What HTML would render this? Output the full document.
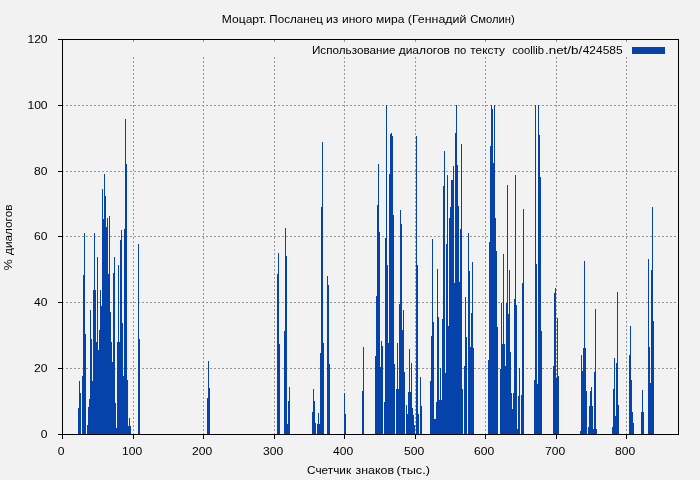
<!DOCTYPE html>
<html><head><meta charset="utf-8"><title>Моцарт. Посланец из иного мира</title>
<style>html,body{margin:0;padding:0;background:#f2f2f2;overflow:hidden}svg{display:block}text{-webkit-font-smoothing:antialiased}text{fill:#000}</style></head>
<body><svg width="700" height="480" viewBox="0 0 700 480" shape-rendering="crispEdges"><rect x="0" y="0" width="700" height="480" fill="#f2f2f2"/><path d="M66 105h2v1h-2zM70 105h2v1h-2zM74 105h2v1h-2zM78 105h2v1h-2zM82 105h2v1h-2zM86 105h2v1h-2zM90 105h2v1h-2zM94 105h2v1h-2zM98 105h2v1h-2zM102 105h2v1h-2zM106 105h2v1h-2zM110 105h2v1h-2zM114 105h2v1h-2zM118 105h2v1h-2zM122 105h2v1h-2zM126 105h2v1h-2zM130 105h2v1h-2zM134 105h2v1h-2zM138 105h2v1h-2zM142 105h2v1h-2zM146 105h2v1h-2zM150 105h2v1h-2zM154 105h2v1h-2zM158 105h2v1h-2zM162 105h2v1h-2zM166 105h2v1h-2zM170 105h2v1h-2zM174 105h2v1h-2zM178 105h2v1h-2zM182 105h2v1h-2zM186 105h2v1h-2zM190 105h2v1h-2zM194 105h2v1h-2zM198 105h2v1h-2zM202 105h2v1h-2zM206 105h2v1h-2zM210 105h2v1h-2zM214 105h2v1h-2zM218 105h2v1h-2zM222 105h2v1h-2zM226 105h2v1h-2zM230 105h2v1h-2zM234 105h2v1h-2zM238 105h2v1h-2zM242 105h2v1h-2zM246 105h2v1h-2zM250 105h2v1h-2zM254 105h2v1h-2zM258 105h2v1h-2zM262 105h2v1h-2zM266 105h2v1h-2zM270 105h2v1h-2zM274 105h2v1h-2zM278 105h2v1h-2zM282 105h2v1h-2zM286 105h2v1h-2zM290 105h2v1h-2zM294 105h2v1h-2zM298 105h2v1h-2zM302 105h2v1h-2zM306 105h2v1h-2zM310 105h2v1h-2zM314 105h2v1h-2zM318 105h2v1h-2zM322 105h2v1h-2zM326 105h2v1h-2zM330 105h2v1h-2zM334 105h2v1h-2zM338 105h2v1h-2zM342 105h2v1h-2zM346 105h2v1h-2zM350 105h2v1h-2zM354 105h2v1h-2zM358 105h2v1h-2zM362 105h2v1h-2zM366 105h2v1h-2zM370 105h2v1h-2zM374 105h2v1h-2zM378 105h2v1h-2zM382 105h2v1h-2zM386 105h2v1h-2zM390 105h2v1h-2zM394 105h2v1h-2zM398 105h2v1h-2zM402 105h2v1h-2zM406 105h2v1h-2zM410 105h2v1h-2zM414 105h2v1h-2zM418 105h2v1h-2zM422 105h2v1h-2zM426 105h2v1h-2zM430 105h2v1h-2zM434 105h2v1h-2zM438 105h2v1h-2zM442 105h2v1h-2zM446 105h2v1h-2zM450 105h2v1h-2zM454 105h2v1h-2zM458 105h2v1h-2zM462 105h2v1h-2zM466 105h2v1h-2zM470 105h2v1h-2zM474 105h2v1h-2zM478 105h2v1h-2zM482 105h2v1h-2zM486 105h2v1h-2zM490 105h2v1h-2zM494 105h2v1h-2zM498 105h2v1h-2zM502 105h2v1h-2zM506 105h2v1h-2zM510 105h2v1h-2zM514 105h2v1h-2zM518 105h2v1h-2zM522 105h2v1h-2zM526 105h2v1h-2zM530 105h2v1h-2zM534 105h2v1h-2zM538 105h2v1h-2zM542 105h2v1h-2zM546 105h2v1h-2zM550 105h2v1h-2zM554 105h2v1h-2zM558 105h2v1h-2zM562 105h2v1h-2zM566 105h2v1h-2zM570 105h2v1h-2zM574 105h2v1h-2zM578 105h2v1h-2zM582 105h2v1h-2zM586 105h2v1h-2zM590 105h2v1h-2zM594 105h2v1h-2zM598 105h2v1h-2zM602 105h2v1h-2zM606 105h2v1h-2zM610 105h2v1h-2zM614 105h2v1h-2zM618 105h2v1h-2zM622 105h2v1h-2zM626 105h2v1h-2zM630 105h2v1h-2zM634 105h2v1h-2zM638 105h2v1h-2zM642 105h2v1h-2zM646 105h2v1h-2zM650 105h2v1h-2zM654 105h2v1h-2zM658 105h2v1h-2zM662 105h2v1h-2zM666 105h2v1h-2zM670 105h2v1h-2zM674 105h2v1h-2zM66 171h2v1h-2zM70 171h2v1h-2zM74 171h2v1h-2zM78 171h2v1h-2zM82 171h2v1h-2zM86 171h2v1h-2zM90 171h2v1h-2zM94 171h2v1h-2zM98 171h2v1h-2zM102 171h2v1h-2zM106 171h2v1h-2zM110 171h2v1h-2zM114 171h2v1h-2zM118 171h2v1h-2zM122 171h2v1h-2zM126 171h2v1h-2zM130 171h2v1h-2zM134 171h2v1h-2zM138 171h2v1h-2zM142 171h2v1h-2zM146 171h2v1h-2zM150 171h2v1h-2zM154 171h2v1h-2zM158 171h2v1h-2zM162 171h2v1h-2zM166 171h2v1h-2zM170 171h2v1h-2zM174 171h2v1h-2zM178 171h2v1h-2zM182 171h2v1h-2zM186 171h2v1h-2zM190 171h2v1h-2zM194 171h2v1h-2zM198 171h2v1h-2zM202 171h2v1h-2zM206 171h2v1h-2zM210 171h2v1h-2zM214 171h2v1h-2zM218 171h2v1h-2zM222 171h2v1h-2zM226 171h2v1h-2zM230 171h2v1h-2zM234 171h2v1h-2zM238 171h2v1h-2zM242 171h2v1h-2zM246 171h2v1h-2zM250 171h2v1h-2zM254 171h2v1h-2zM258 171h2v1h-2zM262 171h2v1h-2zM266 171h2v1h-2zM270 171h2v1h-2zM274 171h2v1h-2zM278 171h2v1h-2zM282 171h2v1h-2zM286 171h2v1h-2zM290 171h2v1h-2zM294 171h2v1h-2zM298 171h2v1h-2zM302 171h2v1h-2zM306 171h2v1h-2zM310 171h2v1h-2zM314 171h2v1h-2zM318 171h2v1h-2zM322 171h2v1h-2zM326 171h2v1h-2zM330 171h2v1h-2zM334 171h2v1h-2zM338 171h2v1h-2zM342 171h2v1h-2zM346 171h2v1h-2zM350 171h2v1h-2zM354 171h2v1h-2zM358 171h2v1h-2zM362 171h2v1h-2zM366 171h2v1h-2zM370 171h2v1h-2zM374 171h2v1h-2zM378 171h2v1h-2zM382 171h2v1h-2zM386 171h2v1h-2zM390 171h2v1h-2zM394 171h2v1h-2zM398 171h2v1h-2zM402 171h2v1h-2zM406 171h2v1h-2zM410 171h2v1h-2zM414 171h2v1h-2zM418 171h2v1h-2zM422 171h2v1h-2zM426 171h2v1h-2zM430 171h2v1h-2zM434 171h2v1h-2zM438 171h2v1h-2zM442 171h2v1h-2zM446 171h2v1h-2zM450 171h2v1h-2zM454 171h2v1h-2zM458 171h2v1h-2zM462 171h2v1h-2zM466 171h2v1h-2zM470 171h2v1h-2zM474 171h2v1h-2zM478 171h2v1h-2zM482 171h2v1h-2zM486 171h2v1h-2zM490 171h2v1h-2zM494 171h2v1h-2zM498 171h2v1h-2zM502 171h2v1h-2zM506 171h2v1h-2zM510 171h2v1h-2zM514 171h2v1h-2zM518 171h2v1h-2zM522 171h2v1h-2zM526 171h2v1h-2zM530 171h2v1h-2zM534 171h2v1h-2zM538 171h2v1h-2zM542 171h2v1h-2zM546 171h2v1h-2zM550 171h2v1h-2zM554 171h2v1h-2zM558 171h2v1h-2zM562 171h2v1h-2zM566 171h2v1h-2zM570 171h2v1h-2zM574 171h2v1h-2zM578 171h2v1h-2zM582 171h2v1h-2zM586 171h2v1h-2zM590 171h2v1h-2zM594 171h2v1h-2zM598 171h2v1h-2zM602 171h2v1h-2zM606 171h2v1h-2zM610 171h2v1h-2zM614 171h2v1h-2zM618 171h2v1h-2zM622 171h2v1h-2zM626 171h2v1h-2zM630 171h2v1h-2zM634 171h2v1h-2zM638 171h2v1h-2zM642 171h2v1h-2zM646 171h2v1h-2zM650 171h2v1h-2zM654 171h2v1h-2zM658 171h2v1h-2zM662 171h2v1h-2zM666 171h2v1h-2zM670 171h2v1h-2zM674 171h2v1h-2zM66 236h2v1h-2zM70 236h2v1h-2zM74 236h2v1h-2zM78 236h2v1h-2zM82 236h2v1h-2zM86 236h2v1h-2zM90 236h2v1h-2zM94 236h2v1h-2zM98 236h2v1h-2zM102 236h2v1h-2zM106 236h2v1h-2zM110 236h2v1h-2zM114 236h2v1h-2zM118 236h2v1h-2zM122 236h2v1h-2zM126 236h2v1h-2zM130 236h2v1h-2zM134 236h2v1h-2zM138 236h2v1h-2zM142 236h2v1h-2zM146 236h2v1h-2zM150 236h2v1h-2zM154 236h2v1h-2zM158 236h2v1h-2zM162 236h2v1h-2zM166 236h2v1h-2zM170 236h2v1h-2zM174 236h2v1h-2zM178 236h2v1h-2zM182 236h2v1h-2zM186 236h2v1h-2zM190 236h2v1h-2zM194 236h2v1h-2zM198 236h2v1h-2zM202 236h2v1h-2zM206 236h2v1h-2zM210 236h2v1h-2zM214 236h2v1h-2zM218 236h2v1h-2zM222 236h2v1h-2zM226 236h2v1h-2zM230 236h2v1h-2zM234 236h2v1h-2zM238 236h2v1h-2zM242 236h2v1h-2zM246 236h2v1h-2zM250 236h2v1h-2zM254 236h2v1h-2zM258 236h2v1h-2zM262 236h2v1h-2zM266 236h2v1h-2zM270 236h2v1h-2zM274 236h2v1h-2zM278 236h2v1h-2zM282 236h2v1h-2zM286 236h2v1h-2zM290 236h2v1h-2zM294 236h2v1h-2zM298 236h2v1h-2zM302 236h2v1h-2zM306 236h2v1h-2zM310 236h2v1h-2zM314 236h2v1h-2zM318 236h2v1h-2zM322 236h2v1h-2zM326 236h2v1h-2zM330 236h2v1h-2zM334 236h2v1h-2zM338 236h2v1h-2zM342 236h2v1h-2zM346 236h2v1h-2zM350 236h2v1h-2zM354 236h2v1h-2zM358 236h2v1h-2zM362 236h2v1h-2zM366 236h2v1h-2zM370 236h2v1h-2zM374 236h2v1h-2zM378 236h2v1h-2zM382 236h2v1h-2zM386 236h2v1h-2zM390 236h2v1h-2zM394 236h2v1h-2zM398 236h2v1h-2zM402 236h2v1h-2zM406 236h2v1h-2zM410 236h2v1h-2zM414 236h2v1h-2zM418 236h2v1h-2zM422 236h2v1h-2zM426 236h2v1h-2zM430 236h2v1h-2zM434 236h2v1h-2zM438 236h2v1h-2zM442 236h2v1h-2zM446 236h2v1h-2zM450 236h2v1h-2zM454 236h2v1h-2zM458 236h2v1h-2zM462 236h2v1h-2zM466 236h2v1h-2zM470 236h2v1h-2zM474 236h2v1h-2zM478 236h2v1h-2zM482 236h2v1h-2zM486 236h2v1h-2zM490 236h2v1h-2zM494 236h2v1h-2zM498 236h2v1h-2zM502 236h2v1h-2zM506 236h2v1h-2zM510 236h2v1h-2zM514 236h2v1h-2zM518 236h2v1h-2zM522 236h2v1h-2zM526 236h2v1h-2zM530 236h2v1h-2zM534 236h2v1h-2zM538 236h2v1h-2zM542 236h2v1h-2zM546 236h2v1h-2zM550 236h2v1h-2zM554 236h2v1h-2zM558 236h2v1h-2zM562 236h2v1h-2zM566 236h2v1h-2zM570 236h2v1h-2zM574 236h2v1h-2zM578 236h2v1h-2zM582 236h2v1h-2zM586 236h2v1h-2zM590 236h2v1h-2zM594 236h2v1h-2zM598 236h2v1h-2zM602 236h2v1h-2zM606 236h2v1h-2zM610 236h2v1h-2zM614 236h2v1h-2zM618 236h2v1h-2zM622 236h2v1h-2zM626 236h2v1h-2zM630 236h2v1h-2zM634 236h2v1h-2zM638 236h2v1h-2zM642 236h2v1h-2zM646 236h2v1h-2zM650 236h2v1h-2zM654 236h2v1h-2zM658 236h2v1h-2zM662 236h2v1h-2zM666 236h2v1h-2zM670 236h2v1h-2zM674 236h2v1h-2zM66 302h2v1h-2zM70 302h2v1h-2zM74 302h2v1h-2zM78 302h2v1h-2zM82 302h2v1h-2zM86 302h2v1h-2zM90 302h2v1h-2zM94 302h2v1h-2zM98 302h2v1h-2zM102 302h2v1h-2zM106 302h2v1h-2zM110 302h2v1h-2zM114 302h2v1h-2zM118 302h2v1h-2zM122 302h2v1h-2zM126 302h2v1h-2zM130 302h2v1h-2zM134 302h2v1h-2zM138 302h2v1h-2zM142 302h2v1h-2zM146 302h2v1h-2zM150 302h2v1h-2zM154 302h2v1h-2zM158 302h2v1h-2zM162 302h2v1h-2zM166 302h2v1h-2zM170 302h2v1h-2zM174 302h2v1h-2zM178 302h2v1h-2zM182 302h2v1h-2zM186 302h2v1h-2zM190 302h2v1h-2zM194 302h2v1h-2zM198 302h2v1h-2zM202 302h2v1h-2zM206 302h2v1h-2zM210 302h2v1h-2zM214 302h2v1h-2zM218 302h2v1h-2zM222 302h2v1h-2zM226 302h2v1h-2zM230 302h2v1h-2zM234 302h2v1h-2zM238 302h2v1h-2zM242 302h2v1h-2zM246 302h2v1h-2zM250 302h2v1h-2zM254 302h2v1h-2zM258 302h2v1h-2zM262 302h2v1h-2zM266 302h2v1h-2zM270 302h2v1h-2zM274 302h2v1h-2zM278 302h2v1h-2zM282 302h2v1h-2zM286 302h2v1h-2zM290 302h2v1h-2zM294 302h2v1h-2zM298 302h2v1h-2zM302 302h2v1h-2zM306 302h2v1h-2zM310 302h2v1h-2zM314 302h2v1h-2zM318 302h2v1h-2zM322 302h2v1h-2zM326 302h2v1h-2zM330 302h2v1h-2zM334 302h2v1h-2zM338 302h2v1h-2zM342 302h2v1h-2zM346 302h2v1h-2zM350 302h2v1h-2zM354 302h2v1h-2zM358 302h2v1h-2zM362 302h2v1h-2zM366 302h2v1h-2zM370 302h2v1h-2zM374 302h2v1h-2zM378 302h2v1h-2zM382 302h2v1h-2zM386 302h2v1h-2zM390 302h2v1h-2zM394 302h2v1h-2zM398 302h2v1h-2zM402 302h2v1h-2zM406 302h2v1h-2zM410 302h2v1h-2zM414 302h2v1h-2zM418 302h2v1h-2zM422 302h2v1h-2zM426 302h2v1h-2zM430 302h2v1h-2zM434 302h2v1h-2zM438 302h2v1h-2zM442 302h2v1h-2zM446 302h2v1h-2zM450 302h2v1h-2zM454 302h2v1h-2zM458 302h2v1h-2zM462 302h2v1h-2zM466 302h2v1h-2zM470 302h2v1h-2zM474 302h2v1h-2zM478 302h2v1h-2zM482 302h2v1h-2zM486 302h2v1h-2zM490 302h2v1h-2zM494 302h2v1h-2zM498 302h2v1h-2zM502 302h2v1h-2zM506 302h2v1h-2zM510 302h2v1h-2zM514 302h2v1h-2zM518 302h2v1h-2zM522 302h2v1h-2zM526 302h2v1h-2zM530 302h2v1h-2zM534 302h2v1h-2zM538 302h2v1h-2zM542 302h2v1h-2zM546 302h2v1h-2zM550 302h2v1h-2zM554 302h2v1h-2zM558 302h2v1h-2zM562 302h2v1h-2zM566 302h2v1h-2zM570 302h2v1h-2zM574 302h2v1h-2zM578 302h2v1h-2zM582 302h2v1h-2zM586 302h2v1h-2zM590 302h2v1h-2zM594 302h2v1h-2zM598 302h2v1h-2zM602 302h2v1h-2zM606 302h2v1h-2zM610 302h2v1h-2zM614 302h2v1h-2zM618 302h2v1h-2zM622 302h2v1h-2zM626 302h2v1h-2zM630 302h2v1h-2zM634 302h2v1h-2zM638 302h2v1h-2zM642 302h2v1h-2zM646 302h2v1h-2zM650 302h2v1h-2zM654 302h2v1h-2zM658 302h2v1h-2zM662 302h2v1h-2zM666 302h2v1h-2zM670 302h2v1h-2zM674 302h2v1h-2zM66 368h2v1h-2zM70 368h2v1h-2zM74 368h2v1h-2zM78 368h2v1h-2zM82 368h2v1h-2zM86 368h2v1h-2zM90 368h2v1h-2zM94 368h2v1h-2zM98 368h2v1h-2zM102 368h2v1h-2zM106 368h2v1h-2zM110 368h2v1h-2zM114 368h2v1h-2zM118 368h2v1h-2zM122 368h2v1h-2zM126 368h2v1h-2zM130 368h2v1h-2zM134 368h2v1h-2zM138 368h2v1h-2zM142 368h2v1h-2zM146 368h2v1h-2zM150 368h2v1h-2zM154 368h2v1h-2zM158 368h2v1h-2zM162 368h2v1h-2zM166 368h2v1h-2zM170 368h2v1h-2zM174 368h2v1h-2zM178 368h2v1h-2zM182 368h2v1h-2zM186 368h2v1h-2zM190 368h2v1h-2zM194 368h2v1h-2zM198 368h2v1h-2zM202 368h2v1h-2zM206 368h2v1h-2zM210 368h2v1h-2zM214 368h2v1h-2zM218 368h2v1h-2zM222 368h2v1h-2zM226 368h2v1h-2zM230 368h2v1h-2zM234 368h2v1h-2zM238 368h2v1h-2zM242 368h2v1h-2zM246 368h2v1h-2zM250 368h2v1h-2zM254 368h2v1h-2zM258 368h2v1h-2zM262 368h2v1h-2zM266 368h2v1h-2zM270 368h2v1h-2zM274 368h2v1h-2zM278 368h2v1h-2zM282 368h2v1h-2zM286 368h2v1h-2zM290 368h2v1h-2zM294 368h2v1h-2zM298 368h2v1h-2zM302 368h2v1h-2zM306 368h2v1h-2zM310 368h2v1h-2zM314 368h2v1h-2zM318 368h2v1h-2zM322 368h2v1h-2zM326 368h2v1h-2zM330 368h2v1h-2zM334 368h2v1h-2zM338 368h2v1h-2zM342 368h2v1h-2zM346 368h2v1h-2zM350 368h2v1h-2zM354 368h2v1h-2zM358 368h2v1h-2zM362 368h2v1h-2zM366 368h2v1h-2zM370 368h2v1h-2zM374 368h2v1h-2zM378 368h2v1h-2zM382 368h2v1h-2zM386 368h2v1h-2zM390 368h2v1h-2zM394 368h2v1h-2zM398 368h2v1h-2zM402 368h2v1h-2zM406 368h2v1h-2zM410 368h2v1h-2zM414 368h2v1h-2zM418 368h2v1h-2zM422 368h2v1h-2zM426 368h2v1h-2zM430 368h2v1h-2zM434 368h2v1h-2zM438 368h2v1h-2zM442 368h2v1h-2zM446 368h2v1h-2zM450 368h2v1h-2zM454 368h2v1h-2zM458 368h2v1h-2zM462 368h2v1h-2zM466 368h2v1h-2zM470 368h2v1h-2zM474 368h2v1h-2zM478 368h2v1h-2zM482 368h2v1h-2zM486 368h2v1h-2zM490 368h2v1h-2zM494 368h2v1h-2zM498 368h2v1h-2zM502 368h2v1h-2zM506 368h2v1h-2zM510 368h2v1h-2zM514 368h2v1h-2zM518 368h2v1h-2zM522 368h2v1h-2zM526 368h2v1h-2zM530 368h2v1h-2zM534 368h2v1h-2zM538 368h2v1h-2zM542 368h2v1h-2zM546 368h2v1h-2zM550 368h2v1h-2zM554 368h2v1h-2zM558 368h2v1h-2zM562 368h2v1h-2zM566 368h2v1h-2zM570 368h2v1h-2zM574 368h2v1h-2zM578 368h2v1h-2zM582 368h2v1h-2zM586 368h2v1h-2zM590 368h2v1h-2zM594 368h2v1h-2zM598 368h2v1h-2zM602 368h2v1h-2zM606 368h2v1h-2zM610 368h2v1h-2zM614 368h2v1h-2zM618 368h2v1h-2zM622 368h2v1h-2zM626 368h2v1h-2zM630 368h2v1h-2zM634 368h2v1h-2zM638 368h2v1h-2zM642 368h2v1h-2zM646 368h2v1h-2zM650 368h2v1h-2zM654 368h2v1h-2zM658 368h2v1h-2zM662 368h2v1h-2zM666 368h2v1h-2zM670 368h2v1h-2zM674 368h2v1h-2zM133 57h1v2h-1zM133 61h1v2h-1zM133 65h1v2h-1zM133 69h1v2h-1zM133 73h1v2h-1zM133 77h1v2h-1zM133 81h1v2h-1zM133 85h1v2h-1zM133 89h1v2h-1zM133 93h1v2h-1zM133 97h1v2h-1zM133 101h1v2h-1zM133 105h1v2h-1zM133 109h1v2h-1zM133 113h1v2h-1zM133 117h1v2h-1zM133 121h1v2h-1zM133 125h1v2h-1zM133 129h1v2h-1zM133 133h1v2h-1zM133 137h1v2h-1zM133 141h1v2h-1zM133 145h1v2h-1zM133 149h1v2h-1zM133 153h1v2h-1zM133 157h1v2h-1zM133 161h1v2h-1zM133 165h1v2h-1zM133 169h1v2h-1zM133 173h1v2h-1zM133 177h1v2h-1zM133 181h1v2h-1zM133 185h1v2h-1zM133 189h1v2h-1zM133 193h1v2h-1zM133 197h1v2h-1zM133 201h1v2h-1zM133 205h1v2h-1zM133 209h1v2h-1zM133 213h1v2h-1zM133 217h1v2h-1zM133 221h1v2h-1zM133 225h1v2h-1zM133 229h1v2h-1zM133 233h1v2h-1zM133 237h1v2h-1zM133 241h1v2h-1zM133 245h1v2h-1zM133 249h1v2h-1zM133 253h1v2h-1zM133 257h1v2h-1zM133 261h1v2h-1zM133 265h1v2h-1zM133 269h1v2h-1zM133 273h1v2h-1zM133 277h1v2h-1zM133 281h1v2h-1zM133 285h1v2h-1zM133 289h1v2h-1zM133 293h1v2h-1zM133 297h1v2h-1zM133 301h1v2h-1zM133 305h1v2h-1zM133 309h1v2h-1zM133 313h1v2h-1zM133 317h1v2h-1zM133 321h1v2h-1zM133 325h1v2h-1zM133 329h1v2h-1zM133 333h1v2h-1zM133 337h1v2h-1zM133 341h1v2h-1zM133 345h1v2h-1zM133 349h1v2h-1zM133 353h1v2h-1zM133 357h1v2h-1zM133 361h1v2h-1zM133 365h1v2h-1zM133 369h1v2h-1zM133 373h1v2h-1zM133 377h1v2h-1zM133 381h1v2h-1zM133 385h1v2h-1zM133 389h1v2h-1zM133 393h1v2h-1zM133 397h1v2h-1zM133 401h1v2h-1zM133 405h1v2h-1zM133 409h1v2h-1zM133 413h1v2h-1zM133 417h1v2h-1zM133 421h1v2h-1zM133 425h1v2h-1zM133 429h1v2h-1zM133 433h1v2h-1zM133 40h1v2h-1zM203 57h1v2h-1zM203 61h1v2h-1zM203 65h1v2h-1zM203 69h1v2h-1zM203 73h1v2h-1zM203 77h1v2h-1zM203 81h1v2h-1zM203 85h1v2h-1zM203 89h1v2h-1zM203 93h1v2h-1zM203 97h1v2h-1zM203 101h1v2h-1zM203 105h1v2h-1zM203 109h1v2h-1zM203 113h1v2h-1zM203 117h1v2h-1zM203 121h1v2h-1zM203 125h1v2h-1zM203 129h1v2h-1zM203 133h1v2h-1zM203 137h1v2h-1zM203 141h1v2h-1zM203 145h1v2h-1zM203 149h1v2h-1zM203 153h1v2h-1zM203 157h1v2h-1zM203 161h1v2h-1zM203 165h1v2h-1zM203 169h1v2h-1zM203 173h1v2h-1zM203 177h1v2h-1zM203 181h1v2h-1zM203 185h1v2h-1zM203 189h1v2h-1zM203 193h1v2h-1zM203 197h1v2h-1zM203 201h1v2h-1zM203 205h1v2h-1zM203 209h1v2h-1zM203 213h1v2h-1zM203 217h1v2h-1zM203 221h1v2h-1zM203 225h1v2h-1zM203 229h1v2h-1zM203 233h1v2h-1zM203 237h1v2h-1zM203 241h1v2h-1zM203 245h1v2h-1zM203 249h1v2h-1zM203 253h1v2h-1zM203 257h1v2h-1zM203 261h1v2h-1zM203 265h1v2h-1zM203 269h1v2h-1zM203 273h1v2h-1zM203 277h1v2h-1zM203 281h1v2h-1zM203 285h1v2h-1zM203 289h1v2h-1zM203 293h1v2h-1zM203 297h1v2h-1zM203 301h1v2h-1zM203 305h1v2h-1zM203 309h1v2h-1zM203 313h1v2h-1zM203 317h1v2h-1zM203 321h1v2h-1zM203 325h1v2h-1zM203 329h1v2h-1zM203 333h1v2h-1zM203 337h1v2h-1zM203 341h1v2h-1zM203 345h1v2h-1zM203 349h1v2h-1zM203 353h1v2h-1zM203 357h1v2h-1zM203 361h1v2h-1zM203 365h1v2h-1zM203 369h1v2h-1zM203 373h1v2h-1zM203 377h1v2h-1zM203 381h1v2h-1zM203 385h1v2h-1zM203 389h1v2h-1zM203 393h1v2h-1zM203 397h1v2h-1zM203 401h1v2h-1zM203 405h1v2h-1zM203 409h1v2h-1zM203 413h1v2h-1zM203 417h1v2h-1zM203 421h1v2h-1zM203 425h1v2h-1zM203 429h1v2h-1zM203 433h1v2h-1zM203 40h1v2h-1zM274 57h1v2h-1zM274 61h1v2h-1zM274 65h1v2h-1zM274 69h1v2h-1zM274 73h1v2h-1zM274 77h1v2h-1zM274 81h1v2h-1zM274 85h1v2h-1zM274 89h1v2h-1zM274 93h1v2h-1zM274 97h1v2h-1zM274 101h1v2h-1zM274 105h1v2h-1zM274 109h1v2h-1zM274 113h1v2h-1zM274 117h1v2h-1zM274 121h1v2h-1zM274 125h1v2h-1zM274 129h1v2h-1zM274 133h1v2h-1zM274 137h1v2h-1zM274 141h1v2h-1zM274 145h1v2h-1zM274 149h1v2h-1zM274 153h1v2h-1zM274 157h1v2h-1zM274 161h1v2h-1zM274 165h1v2h-1zM274 169h1v2h-1zM274 173h1v2h-1zM274 177h1v2h-1zM274 181h1v2h-1zM274 185h1v2h-1zM274 189h1v2h-1zM274 193h1v2h-1zM274 197h1v2h-1zM274 201h1v2h-1zM274 205h1v2h-1zM274 209h1v2h-1zM274 213h1v2h-1zM274 217h1v2h-1zM274 221h1v2h-1zM274 225h1v2h-1zM274 229h1v2h-1zM274 233h1v2h-1zM274 237h1v2h-1zM274 241h1v2h-1zM274 245h1v2h-1zM274 249h1v2h-1zM274 253h1v2h-1zM274 257h1v2h-1zM274 261h1v2h-1zM274 265h1v2h-1zM274 269h1v2h-1zM274 273h1v2h-1zM274 277h1v2h-1zM274 281h1v2h-1zM274 285h1v2h-1zM274 289h1v2h-1zM274 293h1v2h-1zM274 297h1v2h-1zM274 301h1v2h-1zM274 305h1v2h-1zM274 309h1v2h-1zM274 313h1v2h-1zM274 317h1v2h-1zM274 321h1v2h-1zM274 325h1v2h-1zM274 329h1v2h-1zM274 333h1v2h-1zM274 337h1v2h-1zM274 341h1v2h-1zM274 345h1v2h-1zM274 349h1v2h-1zM274 353h1v2h-1zM274 357h1v2h-1zM274 361h1v2h-1zM274 365h1v2h-1zM274 369h1v2h-1zM274 373h1v2h-1zM274 377h1v2h-1zM274 381h1v2h-1zM274 385h1v2h-1zM274 389h1v2h-1zM274 393h1v2h-1zM274 397h1v2h-1zM274 401h1v2h-1zM274 405h1v2h-1zM274 409h1v2h-1zM274 413h1v2h-1zM274 417h1v2h-1zM274 421h1v2h-1zM274 425h1v2h-1zM274 429h1v2h-1zM274 433h1v2h-1zM274 40h1v2h-1zM344 57h1v2h-1zM344 61h1v2h-1zM344 65h1v2h-1zM344 69h1v2h-1zM344 73h1v2h-1zM344 77h1v2h-1zM344 81h1v2h-1zM344 85h1v2h-1zM344 89h1v2h-1zM344 93h1v2h-1zM344 97h1v2h-1zM344 101h1v2h-1zM344 105h1v2h-1zM344 109h1v2h-1zM344 113h1v2h-1zM344 117h1v2h-1zM344 121h1v2h-1zM344 125h1v2h-1zM344 129h1v2h-1zM344 133h1v2h-1zM344 137h1v2h-1zM344 141h1v2h-1zM344 145h1v2h-1zM344 149h1v2h-1zM344 153h1v2h-1zM344 157h1v2h-1zM344 161h1v2h-1zM344 165h1v2h-1zM344 169h1v2h-1zM344 173h1v2h-1zM344 177h1v2h-1zM344 181h1v2h-1zM344 185h1v2h-1zM344 189h1v2h-1zM344 193h1v2h-1zM344 197h1v2h-1zM344 201h1v2h-1zM344 205h1v2h-1zM344 209h1v2h-1zM344 213h1v2h-1zM344 217h1v2h-1zM344 221h1v2h-1zM344 225h1v2h-1zM344 229h1v2h-1zM344 233h1v2h-1zM344 237h1v2h-1zM344 241h1v2h-1zM344 245h1v2h-1zM344 249h1v2h-1zM344 253h1v2h-1zM344 257h1v2h-1zM344 261h1v2h-1zM344 265h1v2h-1zM344 269h1v2h-1zM344 273h1v2h-1zM344 277h1v2h-1zM344 281h1v2h-1zM344 285h1v2h-1zM344 289h1v2h-1zM344 293h1v2h-1zM344 297h1v2h-1zM344 301h1v2h-1zM344 305h1v2h-1zM344 309h1v2h-1zM344 313h1v2h-1zM344 317h1v2h-1zM344 321h1v2h-1zM344 325h1v2h-1zM344 329h1v2h-1zM344 333h1v2h-1zM344 337h1v2h-1zM344 341h1v2h-1zM344 345h1v2h-1zM344 349h1v2h-1zM344 353h1v2h-1zM344 357h1v2h-1zM344 361h1v2h-1zM344 365h1v2h-1zM344 369h1v2h-1zM344 373h1v2h-1zM344 377h1v2h-1zM344 381h1v2h-1zM344 385h1v2h-1zM344 389h1v2h-1zM344 393h1v2h-1zM344 397h1v2h-1zM344 401h1v2h-1zM344 405h1v2h-1zM344 409h1v2h-1zM344 413h1v2h-1zM344 417h1v2h-1zM344 421h1v2h-1zM344 425h1v2h-1zM344 429h1v2h-1zM344 433h1v2h-1zM344 40h1v2h-1zM415 57h1v2h-1zM415 61h1v2h-1zM415 65h1v2h-1zM415 69h1v2h-1zM415 73h1v2h-1zM415 77h1v2h-1zM415 81h1v2h-1zM415 85h1v2h-1zM415 89h1v2h-1zM415 93h1v2h-1zM415 97h1v2h-1zM415 101h1v2h-1zM415 105h1v2h-1zM415 109h1v2h-1zM415 113h1v2h-1zM415 117h1v2h-1zM415 121h1v2h-1zM415 125h1v2h-1zM415 129h1v2h-1zM415 133h1v2h-1zM415 137h1v2h-1zM415 141h1v2h-1zM415 145h1v2h-1zM415 149h1v2h-1zM415 153h1v2h-1zM415 157h1v2h-1zM415 161h1v2h-1zM415 165h1v2h-1zM415 169h1v2h-1zM415 173h1v2h-1zM415 177h1v2h-1zM415 181h1v2h-1zM415 185h1v2h-1zM415 189h1v2h-1zM415 193h1v2h-1zM415 197h1v2h-1zM415 201h1v2h-1zM415 205h1v2h-1zM415 209h1v2h-1zM415 213h1v2h-1zM415 217h1v2h-1zM415 221h1v2h-1zM415 225h1v2h-1zM415 229h1v2h-1zM415 233h1v2h-1zM415 237h1v2h-1zM415 241h1v2h-1zM415 245h1v2h-1zM415 249h1v2h-1zM415 253h1v2h-1zM415 257h1v2h-1zM415 261h1v2h-1zM415 265h1v2h-1zM415 269h1v2h-1zM415 273h1v2h-1zM415 277h1v2h-1zM415 281h1v2h-1zM415 285h1v2h-1zM415 289h1v2h-1zM415 293h1v2h-1zM415 297h1v2h-1zM415 301h1v2h-1zM415 305h1v2h-1zM415 309h1v2h-1zM415 313h1v2h-1zM415 317h1v2h-1zM415 321h1v2h-1zM415 325h1v2h-1zM415 329h1v2h-1zM415 333h1v2h-1zM415 337h1v2h-1zM415 341h1v2h-1zM415 345h1v2h-1zM415 349h1v2h-1zM415 353h1v2h-1zM415 357h1v2h-1zM415 361h1v2h-1zM415 365h1v2h-1zM415 369h1v2h-1zM415 373h1v2h-1zM415 377h1v2h-1zM415 381h1v2h-1zM415 385h1v2h-1zM415 389h1v2h-1zM415 393h1v2h-1zM415 397h1v2h-1zM415 401h1v2h-1zM415 405h1v2h-1zM415 409h1v2h-1zM415 413h1v2h-1zM415 417h1v2h-1zM415 421h1v2h-1zM415 425h1v2h-1zM415 429h1v2h-1zM415 433h1v2h-1zM415 40h1v2h-1zM485 57h1v2h-1zM485 61h1v2h-1zM485 65h1v2h-1zM485 69h1v2h-1zM485 73h1v2h-1zM485 77h1v2h-1zM485 81h1v2h-1zM485 85h1v2h-1zM485 89h1v2h-1zM485 93h1v2h-1zM485 97h1v2h-1zM485 101h1v2h-1zM485 105h1v2h-1zM485 109h1v2h-1zM485 113h1v2h-1zM485 117h1v2h-1zM485 121h1v2h-1zM485 125h1v2h-1zM485 129h1v2h-1zM485 133h1v2h-1zM485 137h1v2h-1zM485 141h1v2h-1zM485 145h1v2h-1zM485 149h1v2h-1zM485 153h1v2h-1zM485 157h1v2h-1zM485 161h1v2h-1zM485 165h1v2h-1zM485 169h1v2h-1zM485 173h1v2h-1zM485 177h1v2h-1zM485 181h1v2h-1zM485 185h1v2h-1zM485 189h1v2h-1zM485 193h1v2h-1zM485 197h1v2h-1zM485 201h1v2h-1zM485 205h1v2h-1zM485 209h1v2h-1zM485 213h1v2h-1zM485 217h1v2h-1zM485 221h1v2h-1zM485 225h1v2h-1zM485 229h1v2h-1zM485 233h1v2h-1zM485 237h1v2h-1zM485 241h1v2h-1zM485 245h1v2h-1zM485 249h1v2h-1zM485 253h1v2h-1zM485 257h1v2h-1zM485 261h1v2h-1zM485 265h1v2h-1zM485 269h1v2h-1zM485 273h1v2h-1zM485 277h1v2h-1zM485 281h1v2h-1zM485 285h1v2h-1zM485 289h1v2h-1zM485 293h1v2h-1zM485 297h1v2h-1zM485 301h1v2h-1zM485 305h1v2h-1zM485 309h1v2h-1zM485 313h1v2h-1zM485 317h1v2h-1zM485 321h1v2h-1zM485 325h1v2h-1zM485 329h1v2h-1zM485 333h1v2h-1zM485 337h1v2h-1zM485 341h1v2h-1zM485 345h1v2h-1zM485 349h1v2h-1zM485 353h1v2h-1zM485 357h1v2h-1zM485 361h1v2h-1zM485 365h1v2h-1zM485 369h1v2h-1zM485 373h1v2h-1zM485 377h1v2h-1zM485 381h1v2h-1zM485 385h1v2h-1zM485 389h1v2h-1zM485 393h1v2h-1zM485 397h1v2h-1zM485 401h1v2h-1zM485 405h1v2h-1zM485 409h1v2h-1zM485 413h1v2h-1zM485 417h1v2h-1zM485 421h1v2h-1zM485 425h1v2h-1zM485 429h1v2h-1zM485 433h1v2h-1zM485 40h1v2h-1zM556 57h1v2h-1zM556 61h1v2h-1zM556 65h1v2h-1zM556 69h1v2h-1zM556 73h1v2h-1zM556 77h1v2h-1zM556 81h1v2h-1zM556 85h1v2h-1zM556 89h1v2h-1zM556 93h1v2h-1zM556 97h1v2h-1zM556 101h1v2h-1zM556 105h1v2h-1zM556 109h1v2h-1zM556 113h1v2h-1zM556 117h1v2h-1zM556 121h1v2h-1zM556 125h1v2h-1zM556 129h1v2h-1zM556 133h1v2h-1zM556 137h1v2h-1zM556 141h1v2h-1zM556 145h1v2h-1zM556 149h1v2h-1zM556 153h1v2h-1zM556 157h1v2h-1zM556 161h1v2h-1zM556 165h1v2h-1zM556 169h1v2h-1zM556 173h1v2h-1zM556 177h1v2h-1zM556 181h1v2h-1zM556 185h1v2h-1zM556 189h1v2h-1zM556 193h1v2h-1zM556 197h1v2h-1zM556 201h1v2h-1zM556 205h1v2h-1zM556 209h1v2h-1zM556 213h1v2h-1zM556 217h1v2h-1zM556 221h1v2h-1zM556 225h1v2h-1zM556 229h1v2h-1zM556 233h1v2h-1zM556 237h1v2h-1zM556 241h1v2h-1zM556 245h1v2h-1zM556 249h1v2h-1zM556 253h1v2h-1zM556 257h1v2h-1zM556 261h1v2h-1zM556 265h1v2h-1zM556 269h1v2h-1zM556 273h1v2h-1zM556 277h1v2h-1zM556 281h1v2h-1zM556 285h1v2h-1zM556 289h1v2h-1zM556 293h1v2h-1zM556 297h1v2h-1zM556 301h1v2h-1zM556 305h1v2h-1zM556 309h1v2h-1zM556 313h1v2h-1zM556 317h1v2h-1zM556 321h1v2h-1zM556 325h1v2h-1zM556 329h1v2h-1zM556 333h1v2h-1zM556 337h1v2h-1zM556 341h1v2h-1zM556 345h1v2h-1zM556 349h1v2h-1zM556 353h1v2h-1zM556 357h1v2h-1zM556 361h1v2h-1zM556 365h1v2h-1zM556 369h1v2h-1zM556 373h1v2h-1zM556 377h1v2h-1zM556 381h1v2h-1zM556 385h1v2h-1zM556 389h1v2h-1zM556 393h1v2h-1zM556 397h1v2h-1zM556 401h1v2h-1zM556 405h1v2h-1zM556 409h1v2h-1zM556 413h1v2h-1zM556 417h1v2h-1zM556 421h1v2h-1zM556 425h1v2h-1zM556 429h1v2h-1zM556 433h1v2h-1zM556 40h1v2h-1zM626 57h1v2h-1zM626 61h1v2h-1zM626 65h1v2h-1zM626 69h1v2h-1zM626 73h1v2h-1zM626 77h1v2h-1zM626 81h1v2h-1zM626 85h1v2h-1zM626 89h1v2h-1zM626 93h1v2h-1zM626 97h1v2h-1zM626 101h1v2h-1zM626 105h1v2h-1zM626 109h1v2h-1zM626 113h1v2h-1zM626 117h1v2h-1zM626 121h1v2h-1zM626 125h1v2h-1zM626 129h1v2h-1zM626 133h1v2h-1zM626 137h1v2h-1zM626 141h1v2h-1zM626 145h1v2h-1zM626 149h1v2h-1zM626 153h1v2h-1zM626 157h1v2h-1zM626 161h1v2h-1zM626 165h1v2h-1zM626 169h1v2h-1zM626 173h1v2h-1zM626 177h1v2h-1zM626 181h1v2h-1zM626 185h1v2h-1zM626 189h1v2h-1zM626 193h1v2h-1zM626 197h1v2h-1zM626 201h1v2h-1zM626 205h1v2h-1zM626 209h1v2h-1zM626 213h1v2h-1zM626 217h1v2h-1zM626 221h1v2h-1zM626 225h1v2h-1zM626 229h1v2h-1zM626 233h1v2h-1zM626 237h1v2h-1zM626 241h1v2h-1zM626 245h1v2h-1zM626 249h1v2h-1zM626 253h1v2h-1zM626 257h1v2h-1zM626 261h1v2h-1zM626 265h1v2h-1zM626 269h1v2h-1zM626 273h1v2h-1zM626 277h1v2h-1zM626 281h1v2h-1zM626 285h1v2h-1zM626 289h1v2h-1zM626 293h1v2h-1zM626 297h1v2h-1zM626 301h1v2h-1zM626 305h1v2h-1zM626 309h1v2h-1zM626 313h1v2h-1zM626 317h1v2h-1zM626 321h1v2h-1zM626 325h1v2h-1zM626 329h1v2h-1zM626 333h1v2h-1zM626 337h1v2h-1zM626 341h1v2h-1zM626 345h1v2h-1zM626 349h1v2h-1zM626 353h1v2h-1zM626 357h1v2h-1zM626 361h1v2h-1zM626 365h1v2h-1zM626 369h1v2h-1zM626 373h1v2h-1zM626 377h1v2h-1zM626 381h1v2h-1zM626 385h1v2h-1zM626 389h1v2h-1zM626 393h1v2h-1zM626 397h1v2h-1zM626 401h1v2h-1zM626 405h1v2h-1zM626 409h1v2h-1zM626 413h1v2h-1zM626 417h1v2h-1zM626 421h1v2h-1zM626 425h1v2h-1zM626 429h1v2h-1zM626 433h1v2h-1zM626 40h1v2h-1z" fill="#979797"/><rect x="63" y="105" width="1" height="1" fill="#979797" opacity="0.6"/><rect x="63" y="171" width="1" height="1" fill="#979797" opacity="0.6"/><rect x="63" y="236" width="1" height="1" fill="#979797" opacity="0.6"/><rect x="63" y="302" width="1" height="1" fill="#979797" opacity="0.6"/><rect x="63" y="368" width="1" height="1" fill="#979797" opacity="0.6"/><path d="M78 408h1V434h-1zM79 381h1V434h-1zM80 393h1V434h-1zM82 376h1V434h-1zM83 275h1V434h-1zM84 233h1V434h-1zM85 334h1V434h-1zM87 425h1V434h-1zM88 407h1V434h-1zM89 399h1V434h-1zM90 310h1V434h-1zM91 339h1V434h-1zM92 381h1V434h-1zM93 290h1V434h-1zM94 233h1V434h-1zM95 290h1V434h-1zM96 342h1V434h-1zM97 257h1V434h-1zM98 350h1V434h-1zM99 330h1V434h-1zM100 290h1V434h-1zM101 306h1V434h-1zM102 189h1V434h-1zM103 219h1V434h-1zM104 174h1V434h-1zM105 196h1V434h-1zM106 227h1V434h-1zM107 218h1V434h-1zM108 274h1V434h-1zM109 216h1V434h-1zM110 312h1V434h-1zM111 342h1V434h-1zM112 362h1V434h-1zM113 273h1V434h-1zM114 257h1V434h-1zM115 403h1V434h-1zM116 428h1V434h-1zM117 342h1V434h-1zM118 265h1V434h-1zM119 342h1V434h-1zM120 240h1V434h-1zM121 230h1V434h-1zM122 323h1V434h-1zM123 376h1V434h-1zM124 229h1V434h-1zM125 119h1V434h-1zM126 164h1V434h-1zM127 380h1V434h-1zM128 426h1V434h-1zM129 418h1V434h-1zM130 426h1V434h-1zM138 244h1V434h-1zM139 339h1V434h-1zM207 398h1V434h-1zM208 361h1V434h-1zM209 388h1V434h-1zM277 274h1V434h-1zM278 253h1V434h-1zM279 344h1V434h-1zM284 331h1V434h-1zM285 228h1V434h-1zM286 256h1V434h-1zM287 424h1V434h-1zM288 401h1V434h-1zM289 387h1V434h-1zM312 412h1V434h-1zM313 389h1V434h-1zM314 401h1V434h-1zM315 423h1V434h-1zM317 424h1V434h-1zM318 413h1V434h-1zM319 424h1V434h-1zM320 353h1V434h-1zM321 207h1V434h-1zM322 142h1V434h-1zM323 343h1V434h-1zM327 276h1V434h-1zM328 285h1V434h-1zM329 364h1V434h-1zM344 393h1V434h-1zM345 414h1V434h-1zM362 391h1V434h-1zM363 347h1V434h-1zM375 356h1V434h-1zM376 296h1V434h-1zM377 205h1V434h-1zM378 164h1V434h-1zM379 232h1V434h-1zM380 367h1V434h-1zM381 341h1V434h-1zM382 346h1V434h-1zM384 402h1V434h-1zM385 238h1V434h-1zM386 105h1V434h-1zM387 265h1V434h-1zM388 343h1V434h-1zM389 174h1V434h-1zM390 134h1V434h-1zM391 133h1V434h-1zM392 136h1V434h-1zM393 215h1V434h-1zM394 364h1V434h-1zM396 389h1V434h-1zM397 343h1V434h-1zM398 389h1V434h-1zM399 304h1V434h-1zM400 210h1V434h-1zM401 224h1V434h-1zM402 330h1V434h-1zM403 310h1V434h-1zM404 372h1V434h-1zM406 405h1V434h-1zM407 414h1V434h-1zM408 392h1V434h-1zM409 349h1V434h-1zM410 392h1V434h-1zM411 363h1V434h-1zM412 408h1V434h-1zM413 415h1V434h-1zM414 425h1V434h-1zM416 136h1V434h-1zM417 265h1V434h-1zM418 414h1V434h-1zM420 377h1V434h-1zM421 406h1V434h-1zM430 381h1V434h-1zM431 336h1V434h-1zM432 239h1V434h-1zM433 322h1V434h-1zM434 419h1V434h-1zM435 419h1V434h-1zM436 402h1V434h-1zM437 269h1V434h-1zM438 317h1V434h-1zM439 400h1V434h-1zM440 368h1V434h-1zM441 400h1V434h-1zM442 319h1V434h-1zM443 186h1V434h-1zM444 151h1V434h-1zM445 373h1V434h-1zM446 244h1V434h-1zM447 175h1V434h-1zM448 326h1V434h-1zM449 218h1V434h-1zM450 207h1V434h-1zM451 180h1V434h-1zM452 180h1V434h-1zM453 166h1V434h-1zM454 283h1V434h-1zM455 133h1V434h-1zM456 105h1V434h-1zM457 165h1V434h-1zM458 206h1V434h-1zM459 282h1V434h-1zM460 229h1V434h-1zM461 144h1V434h-1zM462 389h1V434h-1zM464 366h1V434h-1zM465 297h1V434h-1zM466 337h1V434h-1zM468 233h1V434h-1zM469 271h1V434h-1zM470 347h1V434h-1zM471 313h1V434h-1zM472 262h1V434h-1zM473 348h1V434h-1zM488 360h1V434h-1zM489 242h1V434h-1zM490 146h1V434h-1zM491 105h1V434h-1zM492 109h1V434h-1zM493 163h1V434h-1zM494 105h1V434h-1zM495 218h1V434h-1zM496 251h1V434h-1zM497 327h1V434h-1zM500 369h1V434h-1zM501 303h1V434h-1zM502 344h1V434h-1zM503 254h1V434h-1zM504 344h1V434h-1zM505 366h1V434h-1zM506 303h1V434h-1zM507 185h1V434h-1zM508 314h1V434h-1zM509 270h1V434h-1zM510 352h1V434h-1zM511 393h1V434h-1zM512 409h1V434h-1zM513 393h1V434h-1zM514 299h1V434h-1zM515 175h1V434h-1zM516 305h1V434h-1zM517 429h1V434h-1zM518 396h1V434h-1zM519 368h1V434h-1zM521 395h1V434h-1zM522 283h1V434h-1zM523 209h1V434h-1zM534 380h1V434h-1zM535 105h1V434h-1zM536 264h1V434h-1zM537 384h1V434h-1zM538 105h1V434h-1zM539 135h1V434h-1zM540 177h1V434h-1zM541 331h1V434h-1zM553 366h1V434h-1zM554 293h1V434h-1zM555 288h1V434h-1zM556 378h1V434h-1zM557 318h1V434h-1zM558 376h1V434h-1zM580 431h1V434h-1zM581 355h1V434h-1zM582 371h1V434h-1zM583 348h1V434h-1zM584 261h1V434h-1zM585 348h1V434h-1zM586 391h1V434h-1zM588 427h1V434h-1zM589 406h1V434h-1zM590 391h1V434h-1zM591 387h1V434h-1zM592 406h1V434h-1zM593 429h1V434h-1zM594 372h1V434h-1zM595 309h1V434h-1zM596 429h1V434h-1zM612 427h1V434h-1zM613 389h1V434h-1zM614 358h1V434h-1zM615 416h1V434h-1zM616 363h1V434h-1zM617 292h1V434h-1zM618 405h1V434h-1zM629 355h1V434h-1zM630 326h1V434h-1zM631 380h1V434h-1zM632 412h1V434h-1zM633 423h1V434h-1zM641 412h1V434h-1zM642 390h1V434h-1zM643 412h1V434h-1zM648 259h1V434h-1zM649 347h1V434h-1zM650 383h1V434h-1zM651 270h1V434h-1zM652 207h1V434h-1zM653 321h1V434h-1z" fill="#0543aa"/><path d="M62 39h617v1h-617zM62 434h617v1h-617zM62 39h1v396h-1zM678 39h1v396h-1zM58 39h4v1h-4zM58 105h4v1h-4zM58 171h4v1h-4zM58 236h4v1h-4zM58 302h4v1h-4zM58 368h4v1h-4zM58 434h4v1h-4zM62 434h1v5h-1zM133 434h1v5h-1zM203 434h1v5h-1zM274 434h1v5h-1zM344 434h1v5h-1zM415 434h1v5h-1zM485 434h1v5h-1zM556 434h1v5h-1zM626 434h1v5h-1z" fill="#000"/><g opacity="0.999"><text x="221.83" y="22.6" font-family="Liberation Sans, sans-serif" font-size="11.6" textLength="44.49" lengthAdjust="spacingAndGlyphs">Моцарт.</text><text x="269.37" y="22.6" font-family="Liberation Sans, sans-serif" font-size="11.6" textLength="53.47" lengthAdjust="spacingAndGlyphs">Посланец</text><text x="326.05" y="22.6" font-family="Liberation Sans, sans-serif" font-size="11.6" textLength="12.29" lengthAdjust="spacingAndGlyphs">из</text><text x="342.06" y="22.6" font-family="Liberation Sans, sans-serif" font-size="11.6" textLength="30.73" lengthAdjust="spacingAndGlyphs">иного</text><text x="376.06" y="22.6" font-family="Liberation Sans, sans-serif" font-size="11.6" textLength="28.38" lengthAdjust="spacingAndGlyphs">мира</text><text x="407.86" y="22.6" font-family="Liberation Sans, sans-serif" font-size="11.6" textLength="58.51" lengthAdjust="spacingAndGlyphs">(Геннадий</text><text x="470.14" y="22.6" font-family="Liberation Sans, sans-serif" font-size="11.6" textLength="44.65" lengthAdjust="spacingAndGlyphs">Смолин)</text><text x="311.96" y="53.6" font-family="Liberation Sans, sans-serif" font-size="11.6" textLength="83.57" lengthAdjust="spacingAndGlyphs">Использование</text><text x="398.68" y="53.6" font-family="Liberation Sans, sans-serif" font-size="11.6" textLength="51.29" lengthAdjust="spacingAndGlyphs">диалогов</text><text x="453.91" y="53.6" font-family="Liberation Sans, sans-serif" font-size="11.6" textLength="12.37" lengthAdjust="spacingAndGlyphs">по</text><text x="470.32" y="53.6" font-family="Liberation Sans, sans-serif" font-size="11.6" textLength="34.55" lengthAdjust="spacingAndGlyphs">тексту</text><text x="512.19" y="53.6" font-family="Liberation Sans, sans-serif" font-size="11.6" textLength="31.86" lengthAdjust="spacingAndGlyphs">coollib</text><text x="544.99" y="53.6" font-family="Liberation Sans, sans-serif" font-size="11.6" textLength="37.27" lengthAdjust="spacingAndGlyphs">.net/b/</text><text x="582.7" y="53.6" font-family="Liberation Sans, sans-serif" font-size="11.6" textLength="40.0" lengthAdjust="spacingAndGlyphs">424585</text><rect x="632" y="47" width="33" height="7" fill="#0543aa"/><text x="47.6" y="43" font-family="Liberation Sans, sans-serif" font-size="11.6" text-anchor="end" textLength="20.19" lengthAdjust="spacingAndGlyphs">120</text><text x="47.6" y="109" font-family="Liberation Sans, sans-serif" font-size="11.6" text-anchor="end" textLength="20.19" lengthAdjust="spacingAndGlyphs">100</text><text x="47.6" y="175" font-family="Liberation Sans, sans-serif" font-size="11.6" text-anchor="end" textLength="13.46" lengthAdjust="spacingAndGlyphs">80</text><text x="47.6" y="240" font-family="Liberation Sans, sans-serif" font-size="11.6" text-anchor="end" textLength="13.46" lengthAdjust="spacingAndGlyphs">60</text><text x="47.6" y="306" font-family="Liberation Sans, sans-serif" font-size="11.6" text-anchor="end" textLength="13.46" lengthAdjust="spacingAndGlyphs">40</text><text x="47.6" y="372" font-family="Liberation Sans, sans-serif" font-size="11.6" text-anchor="end" textLength="13.46" lengthAdjust="spacingAndGlyphs">20</text><text x="47.6" y="438" font-family="Liberation Sans, sans-serif" font-size="11.6" text-anchor="end" textLength="6.73" lengthAdjust="spacingAndGlyphs">0</text><text x="61.1" y="455" font-family="Liberation Sans, sans-serif" font-size="11.6" text-anchor="middle" textLength="6.73" lengthAdjust="spacingAndGlyphs">0</text><text x="132.1" y="455" font-family="Liberation Sans, sans-serif" font-size="11.6" text-anchor="middle" textLength="20.19" lengthAdjust="spacingAndGlyphs">100</text><text x="202.1" y="455" font-family="Liberation Sans, sans-serif" font-size="11.6" text-anchor="middle" textLength="20.19" lengthAdjust="spacingAndGlyphs">200</text><text x="273.1" y="455" font-family="Liberation Sans, sans-serif" font-size="11.6" text-anchor="middle" textLength="20.19" lengthAdjust="spacingAndGlyphs">300</text><text x="343.1" y="455" font-family="Liberation Sans, sans-serif" font-size="11.6" text-anchor="middle" textLength="20.19" lengthAdjust="spacingAndGlyphs">400</text><text x="414.1" y="455" font-family="Liberation Sans, sans-serif" font-size="11.6" text-anchor="middle" textLength="20.19" lengthAdjust="spacingAndGlyphs">500</text><text x="484.1" y="455" font-family="Liberation Sans, sans-serif" font-size="11.6" text-anchor="middle" textLength="20.19" lengthAdjust="spacingAndGlyphs">600</text><text x="555.1" y="455" font-family="Liberation Sans, sans-serif" font-size="11.6" text-anchor="middle" textLength="20.19" lengthAdjust="spacingAndGlyphs">700</text><text x="625.1" y="455" font-family="Liberation Sans, sans-serif" font-size="11.6" text-anchor="middle" textLength="20.19" lengthAdjust="spacingAndGlyphs">800</text><text x="307.11" y="474.3" font-family="Liberation Sans, sans-serif" font-size="11.6" textLength="43.93" lengthAdjust="spacingAndGlyphs">Счетчик</text><text x="355.59" y="474.3" font-family="Liberation Sans, sans-serif" font-size="11.6" textLength="38.44" lengthAdjust="spacingAndGlyphs">знаков</text><text x="396.64" y="474.3" font-family="Liberation Sans, sans-serif" font-size="11.6" textLength="33.34" lengthAdjust="spacingAndGlyphs">(тыс.)</text><text transform="translate(12 270) rotate(-90)" x="-0.44" y="0" font-family="Liberation Sans, sans-serif" font-size="11.6" textLength="11.28" lengthAdjust="spacingAndGlyphs">%</text><text transform="translate(12 270) rotate(-90)" x="15.08" y="0" font-family="Liberation Sans, sans-serif" font-size="11.6" textLength="50.38" lengthAdjust="spacingAndGlyphs">диалогов</text></g></svg></body></html>
